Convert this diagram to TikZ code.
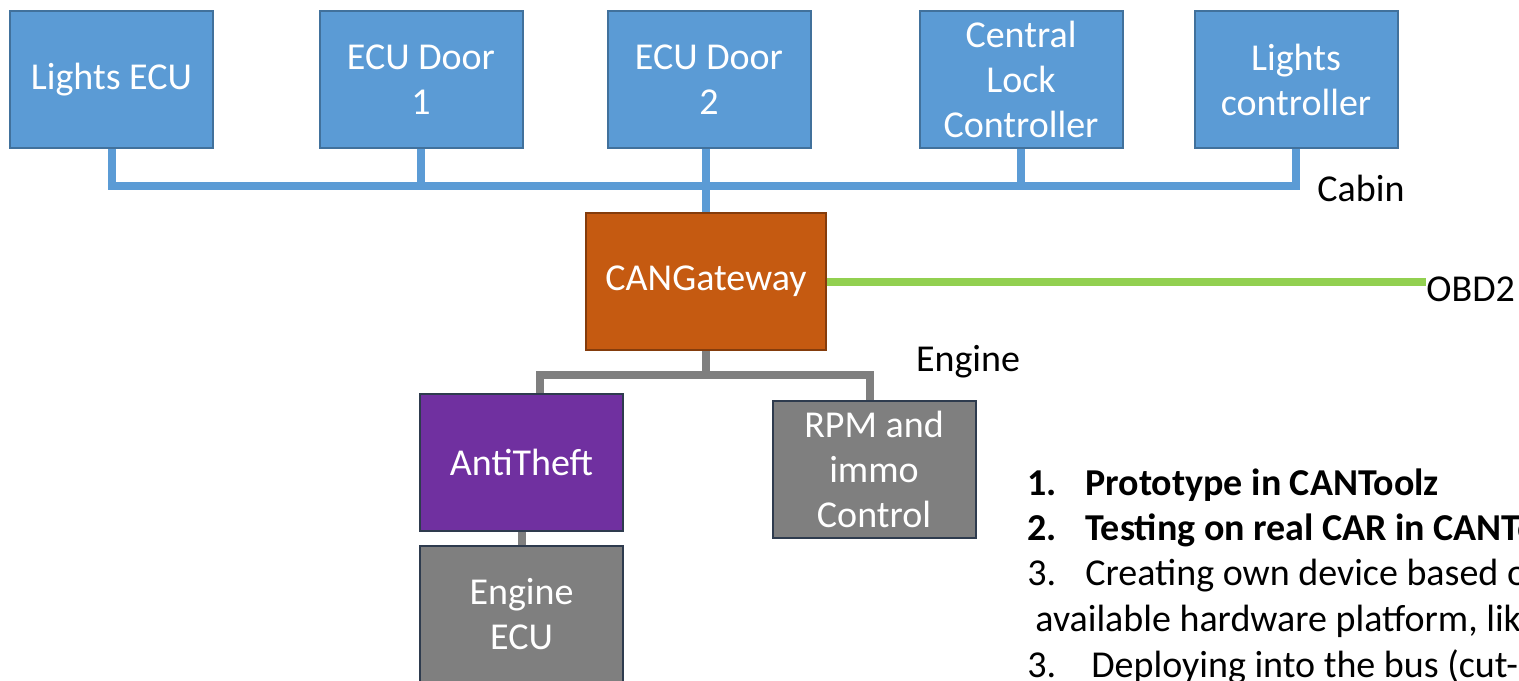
\documentclass[tikz,border=0pt]{standalone}
\usepackage{fontspec}
\setmainfont{Carlito}
\usepackage{tikz}
\usetikzlibrary{positioning}

\definecolor{ecublue}{HTML}{5B9BD5}
\definecolor{ecuedge}{HTML}{41719C}
\definecolor{gwfill}{HTML}{C55A11}
\definecolor{gwedge}{HTML}{843C0C}
\definecolor{theftfill}{HTML}{7030A0}
\definecolor{darkedge}{HTML}{2E3B4E}
\definecolor{engfill}{HTML}{7F7F7F}
\definecolor{obdgreen}{HTML}{92D050}

\begin{document}
\begin{tikzpicture}[
      x=0.5pt,y=-0.5pt,
      box/.style={
         draw,
         line width=1pt,
         text=white,
         align=center,
         inner sep=0pt,
         minimum width=101.5pt,
         minimum height=68.5pt,
         font=\fontsize{19}{22.5}\selectfont},
      cabinecu/.style={box, draw=ecuedge, fill=ecublue},
      gateway/.style={box, draw=gwedge, fill=gwfill, minimum width=120pt},
      theft/.style={box, draw=darkedge, fill=theftfill},
      engecu/.style={box, draw=darkedge, fill=engfill},
      buslabel/.style={inner sep=0pt, font=\fontsize{19}{22.5}\selectfont},
      cabinbus/.style={draw=ecublue, line width=4pt},
      enginebus/.style={draw=engfill, line width=4pt},
      obdbus/.style={draw=obdgreen, line width=4pt},
      listline/.style={anchor=base west, inner sep=0pt, font=\fontsize{19}{22.5}\selectfont}
      ]
\useasboundingbox (0,0) rectangle (1519,680);

% cabin ECUs
\node[cabinecu] (lecu)  at (111.5,79.5) {Lights ECU};
\node[cabinecu] (door1) at (421,79.5)   {ECU Door\\1};
\node[cabinecu] (door2) at (709,79.5)   {ECU Door\\2};
\node[cabinecu] (clc)   at (1021,79.5)  {Central\\Lock\\Controller};
\node[cabinecu] (lctl)  at (1296,79.5)  {Lights\\controller};

% gateway and engine side
\node[gateway] (gw)   at (706,281.5) {CANGateway};
\node[theft]   (anti) at (521.5,462) {AntiTheft};
\node[engecu]  (eecu) at (521.5,614) {Engine\\ECU};
\node[engecu]  (rpm)  at (874,469.5) {RPM and\\immo\\Control};

% bus labels
\node[buslabel] (cabin)  at (1361,188) {Cabin};
\node[buslabel] (engine) at (968,362)  {Engine};
\node[buslabel,anchor=west] (obd) at (1426,289) {OBD2};

% cabin bus
\coordinate (cabR) at (1296,186);
\draw[cabinbus] (lecu.south) |- (cabR) -- (lctl.south);
\foreach \n in {door1,clc}
   \draw[cabinbus] (\n.south) -- (\n.south |- cabR);
\draw[cabinbus] (gw.north) -- (gw.north |- door2.south);

% engine bus
\coordinate (engL) at (540,375);
\coordinate (engR) at (870,375);
\draw[enginebus] (gw.south) -- (gw.south |- engL);
\draw[enginebus] (engL |- anti.north) -- (engL) -- (engR) -- (engR |- rpm.north);
\draw[enginebus] (anti.south) -- (eecu.north);

% OBD2 line
\draw[obdbus] (gw.east) -- (gw.east -| obd.west);

% steps
\node[listline] (step1) at (1027,495) {\bfseries\makebox[29pt][l]{1.}Prototype in CANToolz};
\node[listline] (step2) at (1027,540) {\bfseries\makebox[29pt][l]{2.}Testing on real CAR in CANToolz};
\node[listline] (step3) at (1027,585) {\makebox[29pt][l]{3.}Creating own device based on};
\node[listline] (step4) at (1035,631) {available hardware platform, like};
\node[listline] (step5) at (1027,677) {\makebox[32pt][l]{3.}Deploying into the bus (cut-};

\end{tikzpicture}
\end{document}
